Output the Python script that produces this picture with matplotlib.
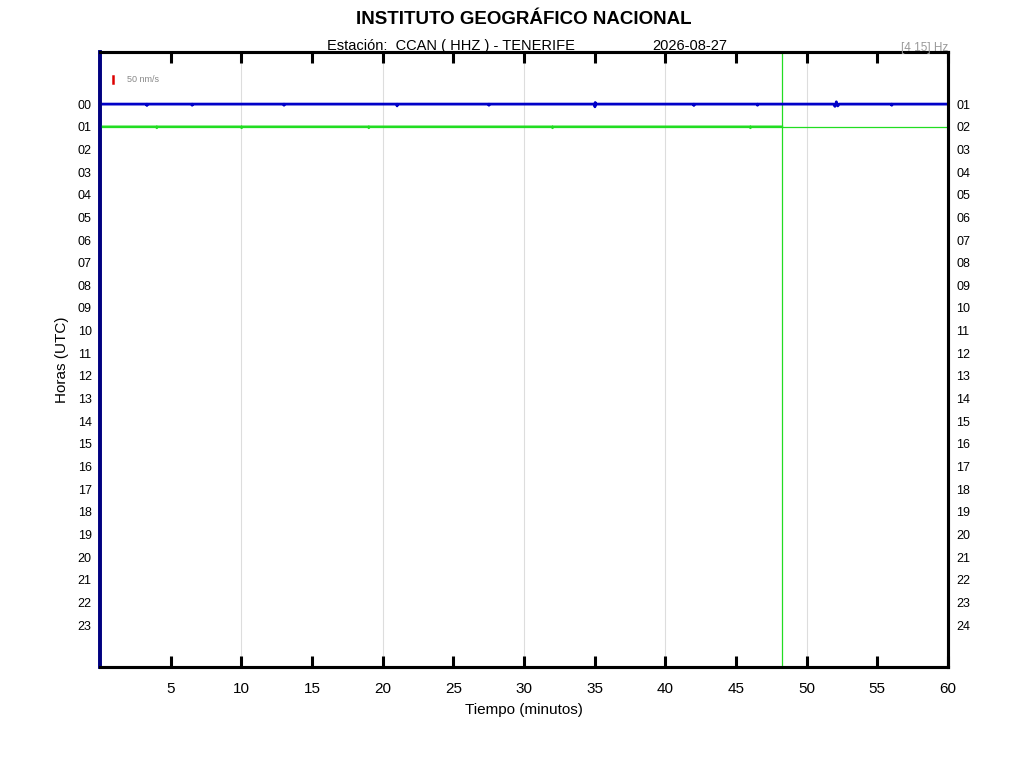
import matplotlib
matplotlib.use('Agg')
import matplotlib.pyplot as plt

plt.rcParams['font.family'] = ['Liberation Sans', 'DejaVu Sans']

# hour rows and labels
hours = list(range(24))
left_labels = [f'{h:02d}' for h in hours]
right_labels = [f'{h + 1:02d}' for h in hours]
minute_ticks = [5, 10, 15, 20, 25, 30, 35, 40, 45, 50, 55, 60]
grid_minutes = [10, 20, 30, 40, 50]

# hour 00 trace (minutes, offset in row units)
h00_t = [0, 3.3, 3.32, 3.34, 6.5, 6.52, 6.54, 13.0, 13.02, 13.04, 21.0, 21.02, 21.04,
         27.5, 27.52, 27.54, 35.0, 35.02, 35.04, 35.06, 42.0, 42.02, 42.04,
         46.5, 46.52, 46.54, 51.9, 52.0, 52.1, 52.2, 52.3, 56.0, 56.02, 56.04, 60]
h00_y = [0, 0, 0.06, 0, 0, 0.05, 0, 0, 0.05, 0, 0, 0.08, 0,
         0, 0.05, 0, 0, 0.12, -0.07, 0, 0, 0.06, 0,
         0, 0.05, 0, 0, 0.1, -0.1, 0.08, 0, 0, 0.05, 0, 0]

# hour 01 trace, stops at current time
h01_t = [0, 4.0, 4.02, 4.04, 10.0, 10.02, 10.04, 19.0, 19.02, 19.04,
         32.0, 32.02, 32.04, 46.0, 46.02, 46.04, 48.25]
h01_y = [0, 0, 0.05, 0, 0, 0.05, 0, 0, 0.05, 0,
         0, 0.05, 0, 0, 0.05, 0, 0]
now_min = 48.25
now_hour = 1

fig = plt.figure(figsize=(10.24, 7.68), dpi=100)
ax = fig.add_axes([100 / 1024, 1 - 667 / 768, 848 / 1024, 615 / 768])

for m in grid_minutes:
    ax.axvline(m, color='#dddddd', lw=0.8, zorder=0)

ax.plot(h00_t, [0 + v for v in h00_y], color='#0000c8', lw=2.0, zorder=3)
ax.plot(h01_t, [1 + v for v in h01_y], color='#22dd22', lw=1.8, zorder=3)
ax.axhline(now_hour, color='#22dd22', lw=0.9, zorder=2)
ax.axvline(now_min, color='#22dd22', lw=0.9, zorder=2)

ax.set_xlim(0, 60)
ax.set_ylim(24.85, -2.3)
ax.set_xticks(minute_ticks)
ax.set_xticklabels([str(m) for m in minute_ticks], fontsize=11)
ax.tick_params(axis='x', direction='in', length=8, width=2.2, top=True, bottom=True, pad=11)
ax.set_yticks(hours)
ax.set_yticklabels(left_labels, fontsize=9)
ax.tick_params(axis='y', length=0, pad=6)

ax2 = ax.twinx()
ax2.set_ylim(ax.get_ylim())
ax2.set_yticks(hours)
ax2.set_yticklabels(right_labels, fontsize=9)
ax2.tick_params(axis='y', length=0, pad=6)

for a in (ax, ax2):
    for s in a.spines.values():
        s.set_linewidth(2.2)
        s.set_color('black')
    a.spines['left'].set_color('#000080')
    a.spines['left'].set_linewidth(2.6)

ax.set_xlabel('Tiempo (minutos)', fontsize=11, labelpad=5)
ax.set_ylabel('Horas (UTC)', fontsize=11, labelpad=6)

# scale bar
ax.plot([0.95, 0.95], [-1.25, -0.95], color='#dd0000', lw=1.8)
ax.text(1.9, -1.1, '50 nm/s', fontsize=6.5, color='#888888', va='center')

fig.text(524 / 1024, 1 - 19 / 768, 'INSTITUTO GEOGRÁFICO NACIONAL', ha='center', va='center',
         fontsize=13.5, fontweight='bold')
fig.text(451 / 1024, 1 - 46 / 768, 'Estación:  CCAN ( HHZ ) - TENERIFE', ha='center', va='center',
         fontsize=10.5)
fig.text(690 / 1024, 1 - 46 / 768, '2026-08-27', ha='center', va='center', fontsize=10.5)
fig.text(948 / 1024, 1 - 48 / 768, '[4 15] Hz', ha='right', va='center', fontsize=8.5, color='#999999')

fig.savefig('out.png', dpi=100)
